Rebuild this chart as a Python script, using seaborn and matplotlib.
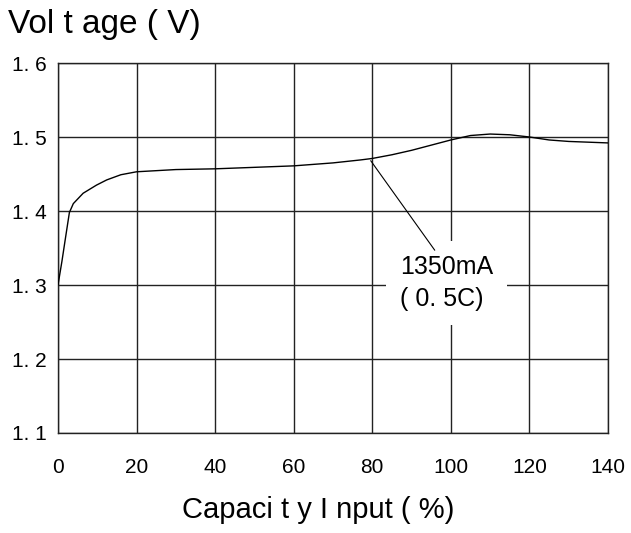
import numpy as np
import pandas as pd
import matplotlib
matplotlib.use('Agg')
import matplotlib.pyplot as plt
import seaborn as sns

# ---------------- data ----------------
capacity = [0, 1.0, 1.8, 2.9, 3.9, 6.4, 9.8, 12.4, 16, 20, 30, 40, 50, 60, 70,
            77, 80, 85, 90, 95, 100, 105, 110, 115, 120, 125, 130, 140]
voltage = [1.300, 1.332, 1.360, 1.398, 1.410, 1.424, 1.435, 1.442, 1.449, 1.453,
           1.456, 1.457, 1.459, 1.461, 1.465, 1.469, 1.471, 1.476, 1.482, 1.489,
           1.496, 1.502, 1.504, 1.503, 1.500, 1.496, 1.494, 1.492]

x_ticks = [0, 20, 40, 60, 80, 100, 120, 140]
y_ticks = [1.1, 1.2, 1.3, 1.4, 1.5, 1.6]
y_tick_labels = ['1. 1', '1. 2', '1. 3', '1. 4', '1. 5', '1. 6']

leader_x = [79.6, 95.9]
leader_y = [1.468, 1.347]
label_text = '1350mA\n( 0. 5C)'
label_pos = (87.0, 1.303)

title_text = 'Vol t age ( V)'
xlabel_text = 'Capaci t y I nput ( %)'

df = pd.DataFrame({'capacity': capacity, 'voltage': voltage})

sns.set_style('white')
plt.rcParams['font.family'] = ['Liberation Sans', 'DejaVu Sans']
plt.rcParams['text.color'] = 'black'

fig = plt.figure(figsize=(6.31, 5.33), dpi=100)
ax = fig.add_axes([58 / 631, 1 - 433 / 533, 550 / 631, 370 / 533])

sns.lineplot(data=df, x='capacity', y='voltage', ax=ax, color='black', lw=1.0, zorder=3)

ax.set_xlim(0, 140)
ax.set_ylim(1.1, 1.6)
ax.set_xticks(x_ticks)
ax.set_xticklabels([str(t) for t in x_ticks])
ax.set_yticks(y_ticks)
ax.set_yticklabels(y_tick_labels)
ax.tick_params(axis='both', length=0, labelsize=15, colors='black')
ax.tick_params(axis='x', pad=18)
ax.tick_params(axis='y', pad=8)
ax.grid(True, color='#222222', lw=1.0)
for s in ax.spines.values():
    s.set_color('#222222')
    s.set_linewidth(1.0)
ax.set_xlabel('')
ax.set_ylabel('')

# annotation
ax.text(label_pos[0], label_pos[1], label_text, fontsize=18, ha='left', va='center',
        linespacing=1.45, zorder=4,
        bbox=dict(boxstyle='square,pad=0.55', fc='white', ec='none'))
ax.plot(leader_x, leader_y, color='black', lw=0.8, zorder=5)

fig.text(8 / 631, 1 - 25 / 533, title_text, fontsize=24, ha='left', va='center')
fig.text(318 / 631, 1 - 510 / 533, xlabel_text, fontsize=21, ha='center', va='center')

fig.savefig('out.png', dpi=100)
